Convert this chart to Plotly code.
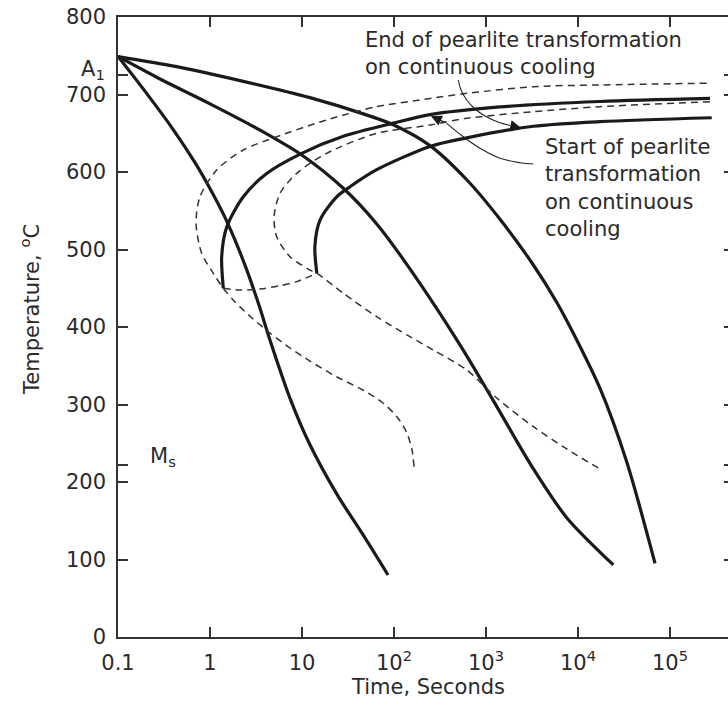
import math
import plotly.graph_objects as go

# ---------------- data (time in seconds, temperature in deg C) ----------------
# cooling curves (solid, thick)
cool1_t = [0.1, 0.197, 0.386, 0.687, 1.05, 1.42, 1.87, 2.52, 3.41, 4.49, 7.41, 12.2, 24.0, 46.0, 86.0]
cool1_T = [749, 704, 657, 612, 574, 544, 512, 473, 428, 383, 308, 248, 184, 132, 80]

cool2_t = [0.1, 0.286, 1.0, 3.50, 9.93, 28.1, 64.9, 149, 521, 1200, 3270, 7530, 24200]
cool2_T = [749, 720, 688, 654, 622, 579, 533, 475, 377, 305, 217, 154, 93]

cool3_t = [0.1, 0.435, 2.30, 12.2, 46.4, 98.2, 246, 617, 1420, 3270, 5860, 8890, 17300, 33800, 68700]
cool3_T = [749, 736, 717, 696, 675, 661, 634, 590, 539, 480, 432, 392, 321, 226, 95]

# pearlite transformation curves on continuous cooling (solid)
upper_solid_t = [1.395, 1.34, 1.52, 2.30, 4.13, 9.93, 28.1, 98.2, 246, 1420, 17300, 272000]
upper_solid_T = [450, 491, 529, 568, 598, 624, 646, 663, 674, 684, 691, 695]

lower_solid_t = [14.5, 13.8, 15.7, 23.8, 33.2, 64.9, 246, 617, 3270, 17300, 284000]
lower_solid_T = [469, 504, 538, 568, 581, 603, 633, 644, 659, 665, 670]

# isothermal transformation curves (dashed)
outer_dash_t = [250600, 17340, 3266, 617, 246, 64.9, 18.5, 5.31, 2.30, 1.18, 0.778, 0.705, 0.812, 1.086, 1.395,
                1.87, 2.86, 4.49, 7.41, 12.2, 24.0, 46.0, 75.9, 108, 138, 157, 165]
outer_dash_T = [714.5, 712.3, 710.1, 701.5, 694.8, 684.3, 667.1, 645.5, 628.4, 602.6, 568.1, 533.8, 495.1, 469.3, 449.9,
                432.3, 411.6, 392.3, 372.9, 356.1, 335.5, 318.7, 301.9, 283.9, 263.2, 241.3, 219.4]

inner_dash_t = [272300, 17340, 3266, 617, 246, 64.9, 18.5, 8.75, 5.77, 4.97, 5.31, 7.41, 12.2, 14.5,
                28.1, 64.9, 149, 267, 617, 1306, 3266, 7534, 18110]
inner_dash_T = [690.7, 684.3, 677.8, 669.3, 660.6, 649.9, 624.1, 598.3, 572.5, 542.3, 516.5, 490.7, 473.5, 469.3,
                443.5, 413.3, 387.5, 370.3, 344.5, 308.4, 271.4, 242.6, 215.5]

link_dash_t = [1.395, 2.12, 3.50, 5.77, 8.75, 14.5]
link_dash_T = [449.9, 447.7, 449.0, 453.3, 458.5, 469.3]

# label leader curves
end_leader_t = [500, 535, 617, 759, 975, 1349, 1824]
end_leader_T = [718.7, 705.8, 692.9, 681.3, 672.3, 664.5, 660.0]
end_tip = (2400, 656.8)

start_leader_t = [3266, 2344, 1419, 861, 566, 374]
start_leader_T = [610.3, 612.0, 617.7, 630.6, 645.5, 662.8]
start_tip = (252, 672.3)

# axis ticks
x_tickvals = [0.1, 1, 10, 100, 1000, 10000, 100000]
x_ticktext = ["0.1", "1", "10", "10<sup>2</sup>", "10<sup>3</sup>", "10<sup>4</sup>", "10<sup>5</sup>"]
y_tickvals = [0, 100, 200, 300, 400, 500, 600, 700, 800, 725, 222]
y_ticktext = ["0", "100", "200", "300", "400", "500", "600", "700", "800", "", ""]

A1_T = 732
MS_POS = (0.212, 232)
END_TEXT_POS = (45.7, 753)
START_TEXT_POS = (4170, 579)

# ---------------- figure ----------------
FONT = "DejaVu Sans"
TXT = "#2a2a2a"
SOLID = dict(color="#1a1a1a", width=3.2, shape="spline", smoothing=0.8)
DASH = dict(color="#333333", width=1.5, dash="7px,5px", shape="spline", smoothing=0.8)

fig = go.Figure()
for t, T in [(cool1_t, cool1_T), (cool2_t, cool2_T), (cool3_t, cool3_T),
             (upper_solid_t, upper_solid_T), (lower_solid_t, lower_solid_T)]:
    fig.add_trace(go.Scatter(x=t, y=T, mode="lines", line=SOLID, hoverinfo="skip"))
for t, T in [(outer_dash_t, outer_dash_T), (inner_dash_t, inner_dash_T), (link_dash_t, link_dash_T)]:
    fig.add_trace(go.Scatter(x=t, y=T, mode="lines", line=DASH, hoverinfo="skip"))
for t, T in [(end_leader_t, end_leader_T), (start_leader_t, start_leader_T)]:
    fig.add_trace(go.Scatter(x=t, y=T, mode="lines",
                             line=dict(color="#222222", width=1.1, shape="spline"), hoverinfo="skip"))
# invisible trace to carry the mirrored right-hand ticks
fig.add_trace(go.Scatter(x=[1], y=[0], yaxis="y2", mode="markers", marker=dict(opacity=0),
                         hoverinfo="skip"))

axis_common = dict(showgrid=False, zeroline=False, ticks="inside", ticklen=10, tickwidth=1.5,
                   tickcolor="#333333", showline=True, linecolor="#333333", linewidth=1.5,
                   tickfont=dict(family=FONT, size=21, color=TXT))

fig.update_layout(
    width=728, height=701, autosize=False,
    margin=dict(l=118, r=0, t=17, b=64),
    paper_bgcolor="white", plot_bgcolor="white",
    showlegend=False,
    xaxis=dict(type="log", range=[-1, 5.63], tickvals=x_tickvals, ticktext=x_ticktext,
               mirror="ticks", ticklabelstandoff=6, **axis_common),
    yaxis=dict(range=[0, 800], tickvals=y_tickvals, ticktext=y_ticktext,
               ticklabelstandoff=6, **axis_common),
    yaxis2=dict(range=[0, 800], overlaying="y", side="right", tickvals=y_tickvals,
                showticklabels=False, ticks="inside", ticklen=4, tickwidth=1.5, tickcolor="#333333",
                showline=False, showgrid=False, zeroline=False),
)

ann_font = dict(family=FONT, size=21, color=TXT)
annotations = [
    dict(text="End of pearlite transformation<br>on continuous cooling", x=math.log10(END_TEXT_POS[0]),
         y=END_TEXT_POS[1], xref="x", yref="y", xanchor="left", yanchor="middle", align="left",
         showarrow=False, font=ann_font),
    dict(text="Start of pearlite<br>transformation<br>on continuous<br>cooling", x=math.log10(START_TEXT_POS[0]),
         y=START_TEXT_POS[1], xref="x", yref="y", xanchor="left", yanchor="middle", align="left",
         showarrow=False, font=ann_font),
    dict(text="A<sub>1</sub>", x=-0.018, xref="paper", y=A1_T, yref="y", xanchor="right",
         yanchor="middle", showarrow=False, font=ann_font),
    dict(text="M<sub>s</sub>", x=math.log10(MS_POS[0]), y=MS_POS[1], xref="x", yref="y",
         xanchor="left", yanchor="middle", showarrow=False, font=ann_font),
    dict(text="Time, Seconds", x=0.508, y=-0.0806, xref="paper", yref="paper", xanchor="center",
         yanchor="middle", showarrow=False, font=ann_font),
    dict(text="Temperature, <sup>o</sup>C", x=-0.1443, y=0.529, xref="paper", yref="paper",
         xanchor="center", yanchor="middle", textangle=-90, showarrow=False, font=ann_font),
    dict(text="", x=math.log10(end_tip[0]), y=end_tip[1], xref="x", yref="y",
         ax=math.log10(end_leader_t[-1]), ay=end_leader_T[-1], axref="x", ayref="y",
         showarrow=True, arrowhead=2, arrowsize=1.8, arrowwidth=1.2, arrowcolor="#1a1a1a"),
    dict(text="", x=math.log10(start_tip[0]), y=start_tip[1], xref="x", yref="y",
         ax=math.log10(start_leader_t[-1]), ay=start_leader_T[-1], axref="x", ayref="y",
         showarrow=True, arrowhead=2, arrowsize=1.8, arrowwidth=1.2, arrowcolor="#1a1a1a"),
]
fig.update_layout(annotations=annotations)

fig.write_html("out.html")
